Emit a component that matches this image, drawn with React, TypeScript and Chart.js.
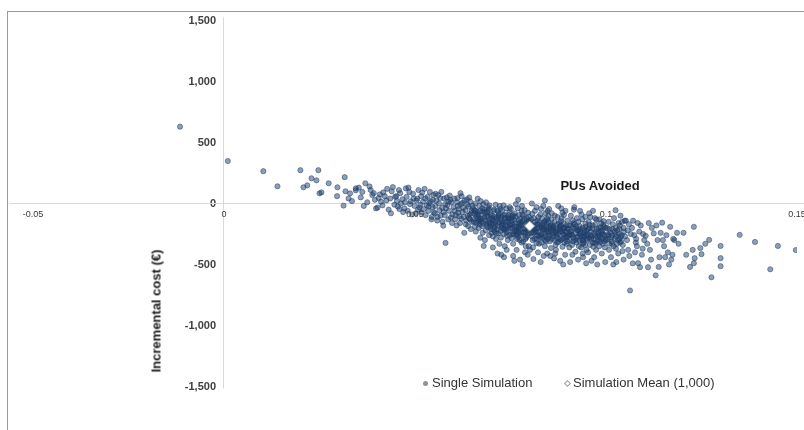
import React, { useEffect, useRef } from "react";
import { Chart, registerables } from "chart.js";

Chart.register(...registerables);

const xTickValues = [-0.05, 0, 0.05, 0.1, 0.15];
const xTickLabels = ["-0.05", "0", "0.05", "0.1", "0.15"];
const yTickValues = [1500, 1000, 500, 0, -500, -1000, -1500];
const yTickLabels = ["1,500", "1,000", "500", "0", "-500", "-1,000", "-1,500"];
const seriesNames = ["Single Simulation", "Simulation Mean (1,000)"];
const xAxisTitle = "PUs Avoided";
const yAxisTitle = "Incremental cost (€)";

const simulationMean = [[0.080, -185]];

const simLeft = [
  [-0.0115, 630], [0.001, 348], [0.0103, 265], [0.014, 141], [0.020, 273], [0.0247, 273],
  [0.0229, 207], [0.0242, 190], [0.0208, 133], [0.0218, 149], [0.0255, 91], [0.025, 83],
  [0.0274, 166], [0.0297, 133], [0.0316, 216], [0.0318, 100], [0.033, 83], [0.0313, -17],
  [0.0326, 41], [0.0345, 108], [0.0345, 124], [0.0296, 60], [0.0335, 20],
  [0.0358, 50], [0.037, 166], [0.0362, 95], [0.0375, 10], [0.0381, 140], [0.0388, 70],
  [0.0366, -20], [0.0395, 30], [0.0384, 110], [0.0398, -40], [0.0392, 85], [0.0353, 130],
];

const simBand040 = [
  [0.0402, -33], [0.0417, 91], [0.0435, 41], [0.0427, 120], [0.0411, 15], [0.0446, -10],
  [0.0421, 60], [0.0439, 100], [0.0408, 75], [0.0431, -50], [0.0448, 55], [0.0415, -15],
  [0.0442, 135], [0.0425, 25], [0.0405, 45], [0.0437, -80],
  [0.0476, 124], [0.0463, 0], [0.0489, 17], [0.0451, 60], [0.0472, -40], [0.0495, 80],
  [0.0458, 110], [0.0481, -60], [0.0467, 35], [0.0499, -20], [0.0485, 95], [0.0455, -25],
  [0.0478, 55], [0.0492, -90], [0.0461, 85], [0.0474, 10], [0.0487, -5], [0.0453, 20],
  [0.0496, 40], [0.0469, -70], [0.0483, 130], [0.0459, -45],
];

const simBand050 = [
  [0.0504, 25], [0.0512, -33], [0.0527, 41], [0.0541, 17], [0.0519, 90], [0.0535, -60],
  [0.0548, 70], [0.0502, -80], [0.0531, -15], [0.0544, -110], [0.0509, 110], [0.0523, -45],
  [0.0537, 5], [0.0516, 60], [0.0546, -30], [0.0528, -95], [0.0506, 40], [0.0539, 95],
  [0.0521, 15], [0.0549, -70], [0.0514, -10], [0.0533, 55], [0.0543, -130], [0.0508, -50],
  [0.0525, 120], [0.0536, -25], [0.0517, -75], [0.0547, 30],
  [0.0574, -182], [0.058, -323], [0.0576, 41], [0.0553, -20], [0.0561, 70], [0.0589, -60],
  [0.0567, -100], [0.0595, 10], [0.0558, -140], [0.0583, 50], [0.0571, -35], [0.0598, -90],
  [0.0556, 25], [0.0564, -55], [0.0587, -130], [0.0592, 30], [0.0579, -5], [0.0569, 95],
  [0.0552, -80], [0.0585, -15], [0.0597, -160], [0.0563, 0], [0.0575, -70], [0.0591, 65],
  [0.0559, -110], [0.0581, -40], [0.0566, 45], [0.0594, -115], [0.0572, -150], [0.0554, 80],
  [0.0588, 15], [0.0578, -95],
];

const simBand060 = [
  [0.0630, 25], [0.0612, -20], [0.0625, -70], [0.0641, -120], [0.0603, 40], [0.0618, -160],
  [0.0637, -10], [0.0648, -60], [0.0607, -95], [0.0622, 60], [0.0634, -140], [0.0645, 15],
  [0.0615, -45], [0.0628, -110], [0.0639, -185], [0.0601, -30], [0.0610, 10], [0.0626, -35],
  [0.0643, -90], [0.0649, -150], [0.0605, -130], [0.0619, 85], [0.0632, -55], [0.0646, -210],
  [0.0613, -75], [0.0636, 35], [0.0621, -125], [0.0609, -180], [0.0640, -25], [0.0624, 5],
  [0.0647, -80], [0.0616, -105], [0.0633, -170], [0.0604, -60], [0.0629, -240], [0.0642, 50],
  [0.0611, 45], [0.0638, -100], [0.0620, -5], [0.0644, -130],
  [0.0680, -348], [0.0670, -60], [0.0652, -40], [0.0665, -120], [0.0688, -180], [0.0658, 0],
  [0.0675, -90], [0.0692, -30], [0.0661, -160], [0.0684, -140], [0.0699, -210], [0.0655, -85],
  [0.0672, 20], [0.0690, -100], [0.0667, -200], [0.0681, -50], [0.0696, -160], [0.0653, -130],
  [0.0677, -240], [0.0686, 10], [0.0663, -70], [0.0694, -260], [0.0657, -190], [0.0673, -150],
  [0.0689, -75], [0.0668, -20], [0.0682, -115], [0.0697, -130], [0.0660, -105], [0.0676, -185],
  [0.0693, -45], [0.0654, -150], [0.0671, -280], [0.0685, -220], [0.0698, -90], [0.0664, 40],
  [0.0679, -5], [0.0691, -195], [0.0659, -230], [0.0674, -125], [0.0687, -160], [0.0666, -95],
  [0.0683, -300], [0.0695, -15], [0.0656, -55], [0.0669, -170], [0.0678, -65], [0.0700, -240],
];

const simBand070 = [
  [0.0702, -100], [0.0715, -140], [0.0728, -60], [0.0741, -190], [0.0709, -230], [0.0722, -20],
  [0.0736, -120], [0.0748, -260], [0.0705, -165], [0.0719, -80], [0.0731, -210], [0.0744, -150],
  [0.0712, -290], [0.0726, -110], [0.0739, -40], [0.0750, -200], [0.0707, -50], [0.0717, -185],
  [0.0733, -250], [0.0746, -95], [0.0704, -270], [0.0720, -155], [0.0738, -175], [0.0711, -10],
  [0.0724, -225], [0.0743, -300], [0.0714, -120], [0.0729, -145], [0.0747, -70], [0.0708, -195],
  [0.0734, -90], [0.0721, -330], [0.0740, -235], [0.0716, -60], [0.0727, -180], [0.0745, -130],
  [0.0703, -135], [0.0732, -15], [0.0713, -245], [0.0737, -205], [0.0749, -170], [0.0725, -280],
  [0.0718, -105], [0.0742, -115], [0.0706, -215], [0.0730, -160], [0.0723, -45], [0.0735, -350],
  [0.0710, -150], [0.0748, -30], [0.0726, -420], [0.0740, -380], [0.0716, -410], [0.0733, -440],
  [0.0704, -360],
  [0.0752, -120], [0.0766, -190], [0.0779, -60], [0.0758, -250], [0.0771, -140], [0.0795, -220],
  [0.0761, -80], [0.0774, -300], [0.0788, -170], [0.0755, -200], [0.0769, -40], [0.0782, -240],
  [0.0798, -110], [0.0763, -160], [0.0776, -210], [0.0791, -280], [0.0757, -330], [0.0772, -95],
  [0.0786, -130], [0.0799, -185], [0.0765, -260], [0.0780, -20], [0.0793, -150], [0.0754, -170],
  [0.0768, -225], [0.0783, -310], [0.0796, -75], [0.0760, -135], [0.0777, -180], [0.0789, -205],
  [0.0751, -45], [0.0770, -275], [0.0784, -100], [0.0797, -245], [0.0762, -215], [0.0775, -125],
  [0.0790, -350], [0.0756, -95], [0.0773, -165], [0.0787, -55], [0.0794, -195], [0.0767, -290],
  [0.0781, -145], [0.0759, -230], [0.0778, -260], [0.0792, -120], [0.0764, -5], [0.0785, -235],
  [0.0753, -285], [0.0771, -205], [0.0788, -400], [0.0757, -430], [0.0775, -460], [0.0795, -420],
  [0.0766, -380], [0.0782, -500], [0.0760, -470], [0.0798, -350], [0.0779, -320], [0.0770, 30],
];

const simBand080 = [
  [0.0802, -160], [0.0815, -220], [0.0828, -90], [0.0841, -270], [0.0808, -300], [0.0821, -140],
  [0.0836, -200], [0.0847, -60], [0.0805, -240], [0.0818, -30], [0.0832, -175], [0.0844, -230],
  [0.0811, -120], [0.0825, -330], [0.0839, -150], [0.0850, -190], [0.0807, -85], [0.0820, -260],
  [0.0834, -280], [0.0846, -125], [0.0803, -195], [0.0816, -175], [0.0830, -45], [0.0843, -310],
  [0.0813, -210], [0.0826, -155], [0.0838, -245], [0.0849, -100], [0.0809, -360], [0.0823, -110],
  [0.0835, -215], [0.0845, -165], [0.0804, -130], [0.0819, -290], [0.0831, -250], [0.0842, -80],
  [0.0812, -185], [0.0827, -205], [0.0840, -350], [0.0848, -275], [0.0806, 0], [0.0817, -235],
  [0.0833, -120], [0.0844, -190], [0.0822, -400], [0.0837, -430], [0.0810, -455], [0.0829, -480],
  [0.0846, -410], [0.0801, -380], [0.0814, -60], [0.0836, -20], [0.0824, -265], [0.0842, -140],
  [0.0818, -325], [0.0829, -185], [0.0849, -235], [0.0807, -225], [0.0831, -320], [0.0840, 25],
  [0.0852, -230], [0.0865, -150], [0.0878, -290], [0.0891, -200], [0.0858, -80], [0.0871, -260],
  [0.0884, -120], [0.0897, -330], [0.0855, -180], [0.0868, -340], [0.0881, -210], [0.0894, -60],
  [0.0861, -270], [0.0874, -170], [0.0887, -250], [0.0899, -140], [0.0853, -310], [0.0866, -100],
  [0.0879, -190], [0.0892, -280], [0.0857, -130], [0.0870, -225], [0.0883, -40], [0.0896, -240],
  [0.0863, -195], [0.0876, -315], [0.0889, -165], [0.0851, -45], [0.0869, -380], [0.0882, -300],
  [0.0895, -185], [0.0859, -250], [0.0873, -110], [0.0886, -355], [0.0898, -270], [0.0862, -215],
  [0.0877, -160], [0.0890, -95], [0.0856, -365], [0.0872, -280], [0.0885, -230], [0.0893, -420],
  [0.0864, -450], [0.0880, -470], [0.0854, -430], [0.0888, -500], [0.0867, -410], [0.0875, -20],
  [0.0898, -205], [0.0860, -175], [0.0882, -145], [0.0891, -320], [0.0871, -205], [0.0858, -290],
  [0.0886, -75],
];

const simBand090 = [
  [0.0902, -210], [0.0915, -280], [0.0928, -150], [0.0941, -320], [0.0908, -100], [0.0921, -240],
  [0.0935, -360], [0.0947, -190], [0.0905, -300], [0.0918, -170], [0.0932, -60], [0.0944, -260],
  [0.0911, -340], [0.0925, -220], [0.0938, -130], [0.0950, -290], [0.0907, -180], [0.0920, -395],
  [0.0934, -250], [0.0946, -110], [0.0903, -260], [0.0916, -50], [0.0930, -305], [0.0943, -215],
  [0.0913, -140], [0.0926, -270], [0.0939, -200], [0.0949, -380], [0.0909, -230], [0.0923, -320],
  [0.0936, -90], [0.0945, -340], [0.0904, -360], [0.0919, -205], [0.0931, -185], [0.0942, -275],
  [0.0912, -420], [0.0927, -460], [0.0940, -440], [0.0906, -480], [0.0948, -490], [0.0917, -30],
  [0.0933, -230], [0.0924, -120], [0.0937, -295], [0.0910, -255], [0.0929, -350], [0.0946, -165],
  [0.0914, -195], [0.0939, -410],
  [0.0952, -250], [0.0965, -180], [0.0978, -310], [0.0991, -220], [0.0958, -340], [0.0971, -120],
  [0.0984, -270], [0.0997, -360], [0.0955, -150], [0.0968, -290], [0.0981, -200], [0.0994, -145],
  [0.0961, -230], [0.0974, -380], [0.0987, -160], [0.1000, -300], [0.0953, -400], [0.0966, -60],
  [0.0979, -240], [0.0992, -330], [0.0957, -200], [0.0970, -320], [0.0983, -130], [0.0996, -260],
  [0.0963, -270], [0.0976, -210], [0.0989, -410], [0.0951, -300], [0.0969, -440], [0.0982, -350],
  [0.0995, -190], [0.0959, -110], [0.0973, -265], [0.0986, -225], [0.0998, -480], [0.0962, -470],
  [0.0977, -500], [0.0990, -285], [0.0956, -80], [0.0972, -170], [0.0985, -315], [0.0993, -175],
  [0.0967, -355], [0.0975, -130], [0.0960, -260],
];

const simBand100 = [
  [0.1003, -200], [0.1016, -260], [0.1029, -330], [0.1042, -150], [0.1008, -380], [0.1021, -120],
  [0.1035, -290], [0.1047, -230], [0.1005, -290], [0.1018, -170], [0.1032, -410], [0.1044, -340],
  [0.1011, -240], [0.1025, -200], [0.1038, -100], [0.1050, -270], [0.1007, -150], [0.1020, -350],
  [0.1034, -250], [0.1046, -460], [0.1013, -440], [0.1027, -480], [0.1040, -310], [0.1025, -55],
  [0.1023, -290], [0.1036, -180], [0.1049, -141], [0.1015, -310], [0.1030, -220], [0.1043, -390],
  [0.1009, -210], [0.1026, -370], [0.1039, -270], [0.1019, -500], [0.1033, -160],
  [0.1052, -141], [0.1065, -250], [0.1078, -320], [0.1091, -180], [0.1058, -380], [0.1071, -141],
  [0.1084, -489], [0.1097, -250], [0.1055, -300], [0.1068, -200], [0.1081, -350], [0.1094, -420],
  [0.1061, -430], [0.1074, -260], [0.1087, -230], [0.1100, -300], [0.1063, -713], [0.1076, -400],
  [0.1089, -522], [0.1057, -220], [0.1070, -490], [0.1083, -160], [0.1096, -370], [0.1060, -170],
  [0.1079, -290],
];

const simCore = [
  [0.0662, -90], [0.0671, -130], [0.0683, -75], [0.0694, -150], [0.0702, -120], [0.0711, -175],
  [0.0719, -95], [0.0728, -200], [0.0737, -150], [0.0744, -220], [0.0753, -140], [0.0761, -185],
  [0.0769, -250], [0.0777, -155], [0.0786, -210], [0.0794, -265], [0.0803, -175], [0.0811, -240],
  [0.0819, -200], [0.0827, -280], [0.0836, -160], [0.0845, -215], [0.0853, -265], [0.0861, -190],
  [0.0869, -240], [0.0878, -210], [0.0886, -290], [0.0894, -230], [0.0903, -180], [0.0911, -260],
  [0.0919, -300], [0.0927, -220], [0.0936, -270], [0.0944, -240], [0.0953, -210], [0.0961, -290],
  [0.0969, -245], [0.0978, -275], [0.0986, -195], [0.0995, -310], [0.1004, -250], [0.1013, -280],
  [0.1022, -230], [0.1031, -300], [0.1041, -260],
  [0.0666, -150], [0.0676, -40], [0.0688, -110], [0.0697, -190], [0.0706, -60], [0.0715, -210],
  [0.0724, -130], [0.0733, -100], [0.0741, -265], [0.0749, -180], [0.0757, -110], [0.0765, -230],
  [0.0773, -190], [0.0781, -90], [0.0790, -240], [0.0798, -160], [0.0806, -270], [0.0815, -150],
  [0.0823, -230], [0.0832, -195], [0.0840, -300], [0.0849, -145], [0.0857, -220], [0.0865, -300],
  [0.0874, -250], [0.0882, -180], [0.0890, -255], [0.0899, -310], [0.0907, -230], [0.0915, -160],
  [0.0923, -280], [0.0932, -210], [0.0940, -330], [0.0949, -260], [0.0957, -175], [0.0965, -320],
  [0.0974, -230], [0.0982, -300], [0.0991, -255], [0.0999, -200], [0.1008, -330], [0.1017, -210],
  [0.1027, -270], [0.1037, -320], [0.1046, -200],
  [0.0651, -20], [0.0659, -60], [0.0668, -135], [0.0679, -165], [0.0691, -60], [0.0700, -170],
  [0.0709, -110], [0.0718, -245], [0.0727, -170], [0.0735, -215], [0.0746, -120], [0.0755, -250],
  [0.0763, -105], [0.0772, -235], [0.0780, -170], [0.0789, -290], [0.0797, -140], [0.0805, -205],
  [0.0813, -290], [0.0821, -170], [0.0830, -260], [0.0838, -210], [0.0847, -290], [0.0855, -200],
  [0.0864, -240], [0.0872, -320], [0.0880, -230], [0.0888, -200], [0.0897, -280], [0.0905, -250],
  [0.0914, -310], [0.0922, -190], [0.0931, -250], [0.0939, -300], [0.0948, -225], [0.0956, -280],
  [0.0964, -205], [0.0973, -330], [0.0981, -260], [0.0990, -240], [0.0998, -290], [0.1007, -260],
  [0.1016, -330], [0.1025, -250], [0.1035, -210],
];

const simRight = [
  [0.1104, -265], [0.1130, -589], [0.1110, -522], [0.1120, -200], [0.1135, -300], [0.1147, -157],
  [0.1115, -380], [0.1140, -440], [0.1125, -245], [0.1108, -330], [0.1143, -240], [0.1118, -460],
  [0.1132, -180], [0.1112, -160], [0.1138, -520], [0.1149, -300],
  [0.1155, -440], [0.1168, -191], [0.1176, -290], [0.1179, -300], [0.1162, -400], [0.1171, -460],
  [0.1158, -260], [0.1186, -240], [0.1174, -420], [0.1165, -500], [0.1152, -350], [0.1190, -330],
  [0.1203, -240], [0.1230, -191], [0.1247, -365], [0.1227, -380], [0.1250, -415], [0.1230, -489],
  [0.1232, -448], [0.1270, -298], [0.1300, -348], [0.1300, -448], [0.1300, -514], [0.1350, -257],
  [0.1390, -315], [0.1450, -348], [0.1497, -381], [0.1430, -539], [0.1276, -605], [0.1210, -420],
  [0.1260, -330], [0.1220, -520],
];

const FONT = "'Liberation Sans', Arial, Helvetica, sans-serif";
const POINT_FILL = "rgba(30, 62, 105, 0.5)";
const POINT_EDGE = "rgba(30, 62, 105, 0.6)";
// y tick labels sit 8px left of the vertical axis (expressed on the x scale)
const Y_LABEL_ANCHOR_X = -8 / 3820;

const axisLinesPlugin = {
  id: "axisLines",
  beforeDatasetsDraw(chart: any) {
    const { ctx, chartArea, scales } = chart;
    const y0 = Math.round(scales.y.getPixelForValue(0)) - 0.5;
    const x0 = Math.round(scales.x.getPixelForValue(0)) - 0.5;
    ctx.save();
    ctx.strokeStyle = "#d9d9d9";
    ctx.lineWidth = 1;
    ctx.beginPath();
    ctx.moveTo(9, y0);
    ctx.lineTo(chart.width, y0);
    ctx.moveTo(x0, chartArea.top - 3);
    ctx.lineTo(x0, chartArea.bottom + 2);
    ctx.stroke();
    ctx.restore();
  },
};

export default function App() {
  const canvasRef = useRef<HTMLCanvasElement | null>(null);

  useEffect(() => {
    const canvas = canvasRef.current;
    if (!canvas) return;
    const sims = [
      ...simLeft, ...simBand040, ...simBand050, ...simBand060, ...simBand070,
      ...simBand080, ...simBand090, ...simBand100, ...simCore, ...simRight,
    ].map(([x, y]) => ({ x, y }));
    const mean = simulationMean.map(([x, y]) => ({ x, y }));

    const zeroPad = (s: any) => {
      s.paddingLeft = 0;
      s.paddingRight = 0;
      s.paddingTop = 0;
      s.paddingBottom = 0;
    };

    const chart = new Chart(canvas, {
      type: "scatter",
      data: {
        datasets: [
          {
            label: seriesNames[1],
            data: mean,
            pointStyle: "rectRot",
            pointRadius: 5,
            backgroundColor: "#ffffff",
            borderColor: "#a0a0a0",
            borderWidth: 1,
            order: 0,
          },
          {
            label: seriesNames[0],
            data: sims,
            pointStyle: "circle",
            pointRadius: 2.6,
            backgroundColor: POINT_FILL,
            borderColor: POINT_EDGE,
            borderWidth: 0.8,
            order: 1,
          },
        ],
      },
      options: {
        animation: false,
        responsive: false,
        maintainAspectRatio: false,
        events: [],
        layout: { padding: { left: 33, right: 7, top: 20.5, bottom: 43.5 } },
        plugins: {
          legend: { display: false },
          tooltip: { enabled: false },
          title: { display: false },
        },
        scales: {
          x: {
            type: "linear",
            position: { y: 0 },
            min: -0.05,
            max: 0.15,
            afterBuildTicks: (s: any) => {
              s.ticks = xTickValues.map((v) => ({ value: v }));
            },
            afterFit: zeroPad,
            grid: { display: false, drawTicks: false },
            border: { display: false },
            ticks: {
              z: 1,
              autoSkip: false,
              maxRotation: 0,
              padding: 6,
              color: "#3a3a3a",
              font: { family: FONT, size: 9 },
              callback: (_v: any, i: number) => xTickLabels[i],
            },
          },
          y: {
            type: "linear",
            position: { x: Y_LABEL_ANCHOR_X },
            min: -1500,
            max: 1500,
            afterBuildTicks: (s: any) => {
              s.ticks = yTickValues.map((v) => ({ value: v }));
            },
            afterFit: zeroPad,
            grid: { display: false, drawTicks: false },
            border: { display: false },
            ticks: {
              autoSkip: false,
              padding: 0,
              color: "#404040",
              font: { family: FONT, size: 11, weight: "bold" },
              callback: (_v: any, i: number) => yTickLabels[i],
            },
          },
        },
      },
      plugins: [axisLinesPlugin],
    } as any);

    return () => chart.destroy();
  }, []);

  const legendText: React.CSSProperties = {
    position: "absolute",
    top: 375,
    height: 16,
    lineHeight: "16px",
    fontFamily: FONT,
    fontSize: 13,
    color: "#333333",
    whiteSpace: "nowrap",
  };

  return (
    <div
      style={{
        position: "fixed",
        left: 0,
        top: 0,
        width: 804,
        height: 430,
        background: "#ffffff",
        overflow: "hidden",
      }}
    >
      <div
        style={{
          position: "absolute",
          left: 7,
          top: 11,
          right: 0,
          bottom: 0,
          borderTop: "1px solid #9a9a9a",
          borderLeft: "1px solid #9a9a9a",
        }}
      />
      <canvas
        ref={canvasRef}
        width={804}
        height={430}
        style={{ position: "absolute", left: 0, top: 0, width: 804, height: 430 }}
      />
      <div
        style={{
          position: "absolute",
          left: 600,
          top: 185,
          transform: "translate(-50%, -50%)",
          fontFamily: FONT,
          fontSize: 13,
          fontWeight: "bold",
          color: "#1a1a1a",
          whiteSpace: "nowrap",
        }}
      >
        {xAxisTitle}
      </div>
      <div
        style={{
          position: "absolute",
          left: 156,
          top: 311,
          transform: "translate(-50%, -50%) rotate(-90deg)",
          fontFamily: FONT,
          fontSize: 13,
          fontWeight: "bold",
          color: "#1a1a1a",
          whiteSpace: "nowrap",
        }}
      >
        {yAxisTitle}
      </div>
      <div
        style={{
          position: "absolute",
          left: 422.5,
          top: 381,
          width: 5,
          height: 5,
          borderRadius: "50%",
          background: "rgba(30, 62, 105, 0.55)",
        }}
      />
      <div style={{ ...legendText, left: 432 }}>{seriesNames[0]}</div>
      <div
        style={{
          position: "absolute",
          left: 565,
          top: 380.5,
          width: 5,
          height: 5,
          transform: "rotate(45deg)",
          border: "1px solid #a0a0a0",
          background: "#ffffff",
          boxSizing: "border-box",
        }}
      />
      <div style={{ ...legendText, left: 573 }}>{seriesNames[1]}</div>
    </div>
  );
}
